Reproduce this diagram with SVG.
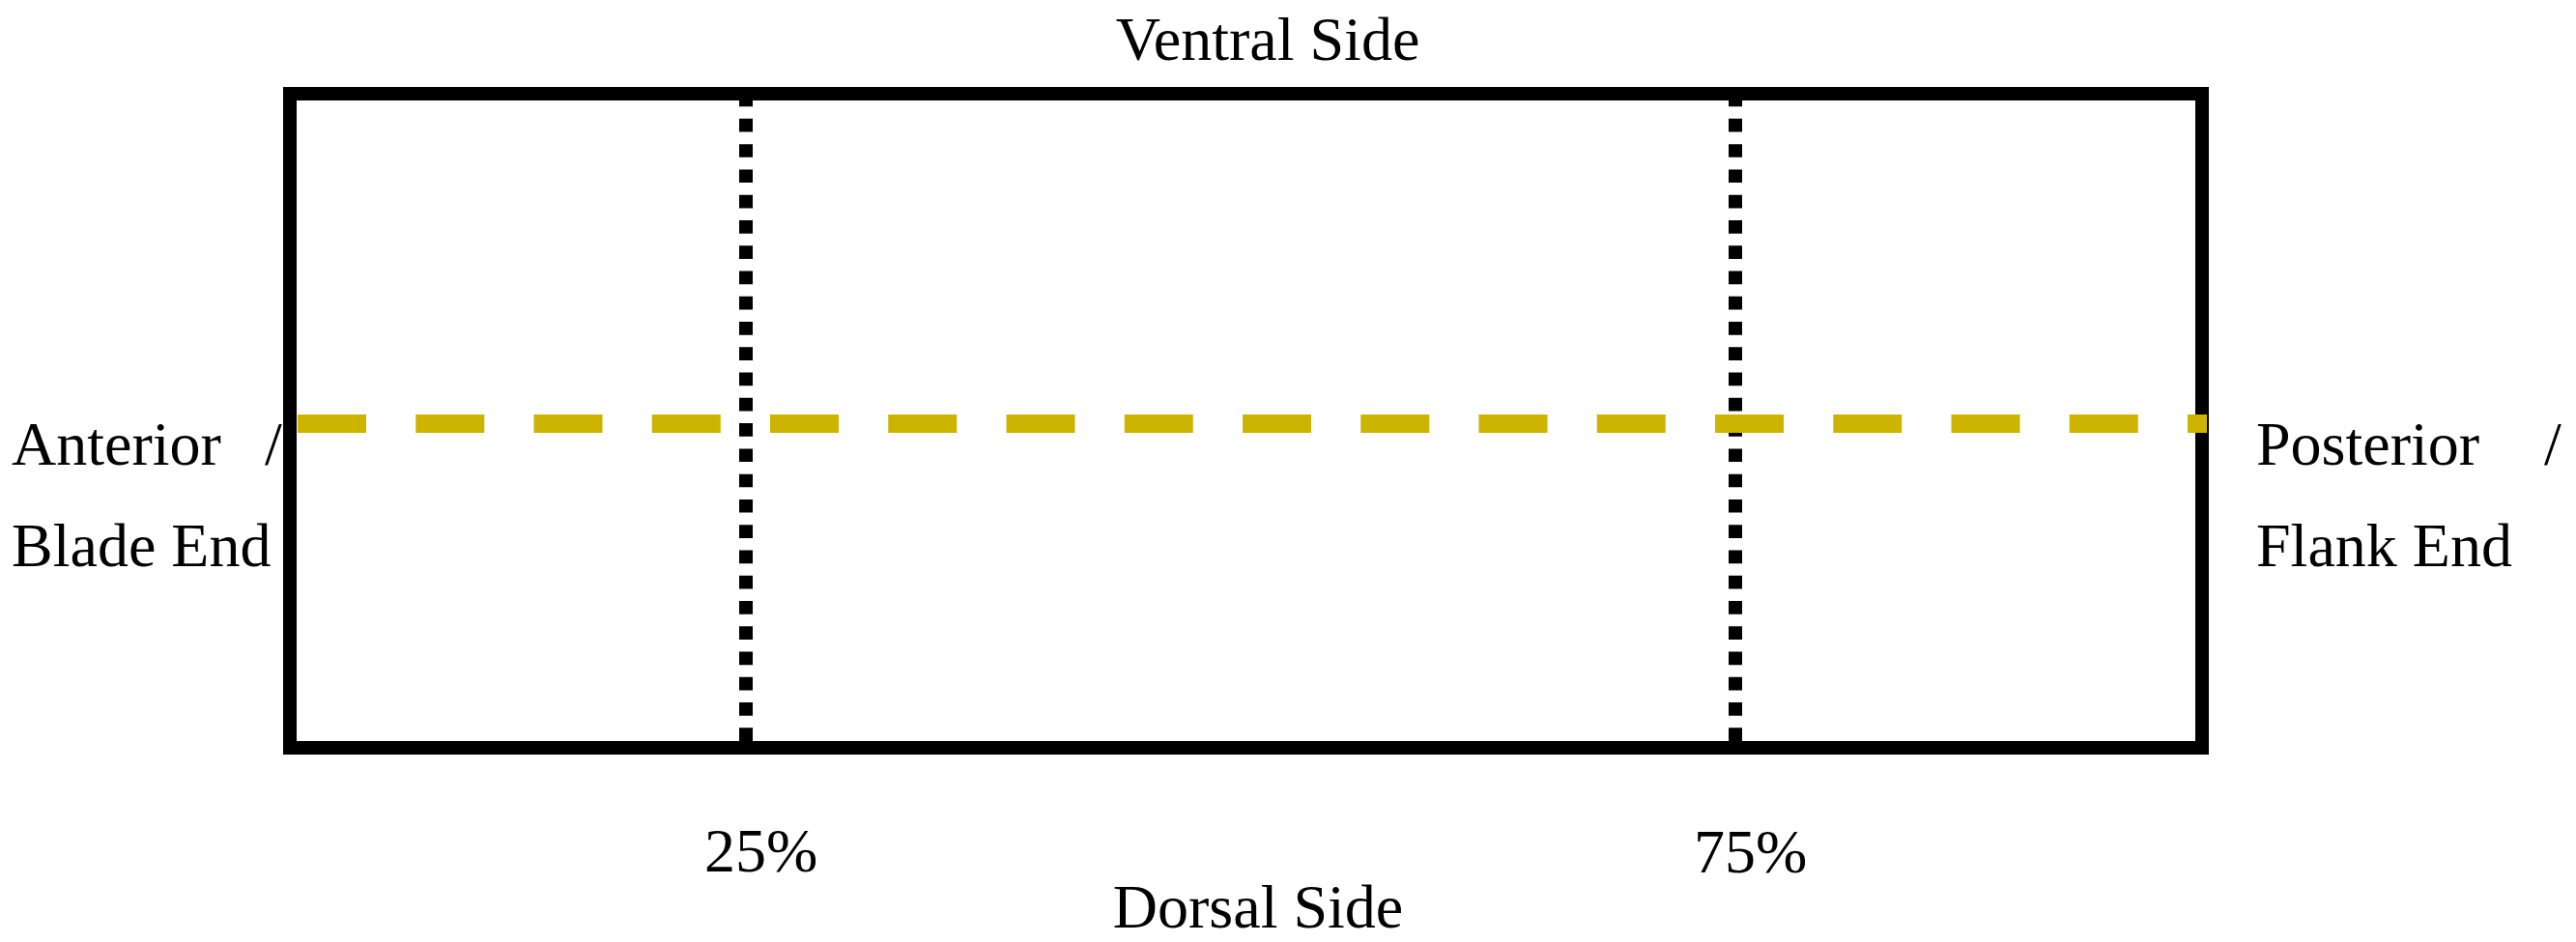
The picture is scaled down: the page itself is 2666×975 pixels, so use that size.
<svg xmlns="http://www.w3.org/2000/svg" width="2666" height="975" viewBox="0 0 2666 975">
<style>
.t{font-family:"Liberation Serif","Times New Roman",serif;font-size:64px;fill:#000}
.box{fill:none;stroke:#000;stroke-width:14;stroke-linejoin:miter}
.dot{stroke:#000;stroke-width:14;stroke-dasharray:13.7 12.57;fill:none}
.yel{stroke:#CCB400;stroke-width:19;stroke-dasharray:71 51.25;fill:none}
</style>
<rect width="2666" height="975" fill="#fff"/>
<g id="frame">
<rect class="box" x="300" y="97" width="1979" height="677"/>
</g>
<g id="connectors">
<line class="dot" x1="772" y1="96.6" x2="772" y2="774"/>
<line class="dot" x1="1796" y1="96.6" x2="1796" y2="774"/>
<line class="yel" x1="308" y1="438.5" x2="2284" y2="438.5"/>
</g>
<g id="label-ventral"><text class="t" x="1312" y="62" text-anchor="middle">Ventral Side</text></g>
<g id="label-dorsal"><text class="t" x="1302" y="960" text-anchor="middle">Dorsal Side</text></g>
<g id="label-anterior"><text class="t" y="481"><tspan x="12">Anterior</tspan><tspan x="274">/</tspan></text><text class="t" x="12" y="586">Blade End</text></g>
<g id="label-posterior"><text class="t" y="481"><tspan x="2335">Posterior</tspan><tspan x="2633">/</tspan></text><text class="t" x="2335" y="586">Flank End</text></g>
<g id="label-25"><text class="t" x="729" y="902">25%</text></g>
<g id="label-75"><text class="t" x="1753" y="903">75%</text></g>
</svg>
